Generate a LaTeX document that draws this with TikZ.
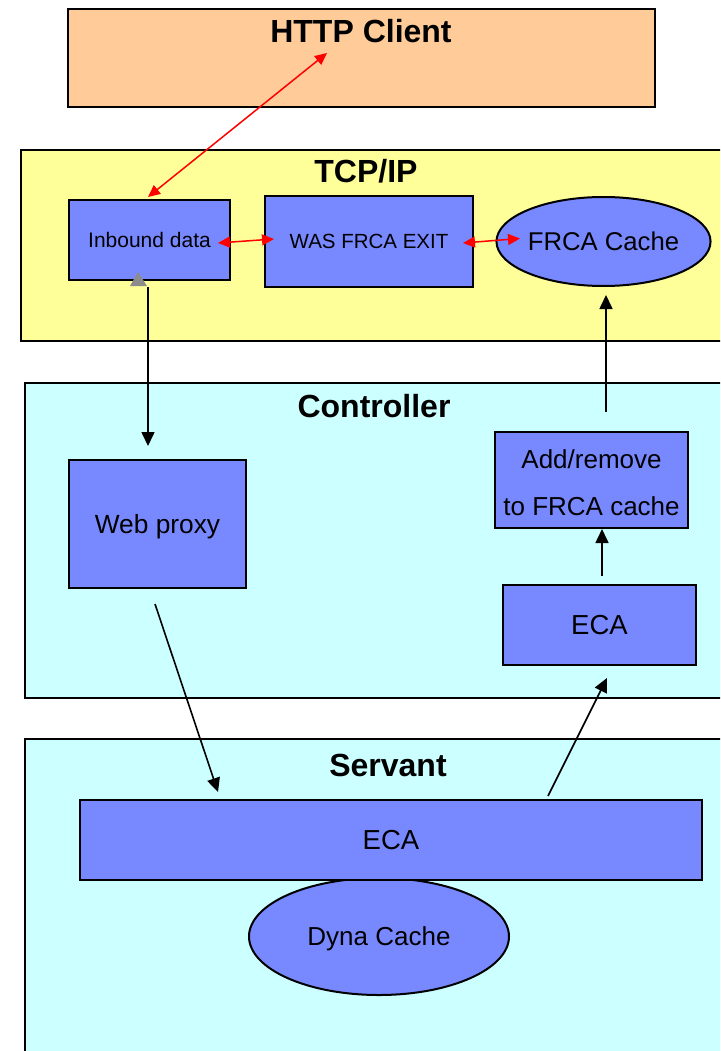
\documentclass[tikz,border=0pt]{standalone}
\usepackage{fontspec}
\setmainfont{Liberation Sans}
\usetikzlibrary{arrows.meta,shapes.geometric}
\definecolor{peach}{HTML}{FFCC99}
\definecolor{paleyellow}{HTML}{FFFF99}
\definecolor{palecyan}{HTML}{CCFFFF}
\definecolor{compblue}{HTML}{7889FF}
\definecolor{linkred}{HTML}{FF0000}
\begin{document}
\begin{tikzpicture}[x=1pt,y=-1pt,
  layer/.style={draw=black,line width=2pt,inner sep=0pt,anchor=north west},
  % text of size #1, centred on its capitals
  capc/.style={font=\fontsize{#1}{#1}\selectfont,text height={0.716*#1},text depth=0pt},
  comp/.style={draw=black,line width=2pt,fill=compblue,inner sep=0pt,align=center},
  blob/.style={draw=black,line width=2pt,fill=compblue,ellipse,inner sep=0pt},
  ttl/.style={capc=32,font=\bfseries\fontsize{32}{34}\selectfont,inner sep=0pt},
  redlink/.style={draw=linkred,line width=1.5pt,{Triangle[length=12pt,width=11pt]}-{Triangle[length=12pt,width=11pt]},color=linkred},
  flow/.style={draw=black,line width=1.6pt,-{Triangle[length=14pt,width=13pt]}}]
\useasboundingbox (0,0) rectangle (720,1051);
\clip (0,0) rectangle (720,1051);
\fill[white] (0,0) rectangle (720,1051);

% layers
\node[layer,fill=peach,minimum width=587pt,minimum height=98pt] (client) at (67,8) {};
\node[layer,fill=paleyellow,minimum width=720pt,minimum height=191pt] (tcpip) at (20,149) {};
\node[layer,fill=palecyan,minimum width=720pt,minimum height=315pt] (ctrl) at (24,382) {};
\node[layer,fill=palecyan,minimum width=720pt,minimum height=340pt] (servant) at (24,738) {};

% layer titles
\node[ttl] (clientT) at (361,31.5) {HTTP Client};
\node[ttl] (tcpipT) at (366,171.5) {TCP/IP};
\node[ttl] (ctrlT) at (374,406.5) {Controller};
\node[ttl] (servantT) at (388,765.5) {Servant};

% TCP/IP components
\node[comp,capc=21,minimum width=161pt,minimum height=80pt] (inb) at (149.5,240) {Inbound data};
\node[comp,capc=20.5,minimum width=208pt,minimum height=91pt] (exit) at (369,241.5) {WAS FRCA EXIT};
\node[blob,capc=25.7,minimum width=209pt,minimum height=89pt] (frca) at (603.5,241.5) {FRCA Cache};

% Controller components
\node[comp,capc=26.3,minimum width=177pt,minimum height=128pt] (proxy) at (157.5,524) {Web proxy};
\node[comp,minimum width=193pt,minimum height=96pt,font=\fontsize{26}{47}\selectfont] (addrm) at (591.5,480) {\rule{0pt}{25pt}Add/remove\\to FRCA cache};
\node[comp,capc=27.5,minimum width=193pt,minimum height=80pt] (ecaC) at (599.5,625) {ECA};

% Servant components
\node[blob,capc=26,minimum width=260pt,minimum height=117pt] (dyna) at (379,936.5) {Dyna Cache};
\node[comp,capc=27.5,minimum width=622pt,minimum height=80pt] (ecaS) at (391,840) {ECA};

% connector end points
\coordinate (inbTop) at (148,197);
\coordinate (clientIn) at (327,53);
\coordinate (inbR) at (218,243);
\coordinate (exitL) at (274,239);
\coordinate (exitR) at (463,243);
\coordinate (frcaL) at (520,238.5);
\coordinate (inbBot) at (148,287);
\coordinate (proxyTop) at (148,446);
\coordinate (proxyBot) at (155,604);
\coordinate (ecaSTop) at (218,792);
\coordinate (ecaSOut) at (548,796);
\coordinate (ecaCBot) at (607,678);
\coordinate (ecaCTop) at (602,576);
\coordinate (addrmBot) at (602,529);
\coordinate (addrmUp) at (606,412);
\coordinate (frcaBot) at (606,295);

% red links
\draw[redlink] (inbTop) -- (clientIn);
\draw[redlink] (inbR) -- (exitL);
\draw[redlink] (exitR) -- (frcaL);

% black flows
\draw[flow] (inbBot) -- (proxyTop);
\fill[gray!90] (138,272) -- (147,286) -- (130,286) -- cycle;
\draw[flow] (proxyBot) -- (ecaSTop);
\draw[flow] (ecaSOut) -- (ecaCBot);
\draw[flow] (ecaCTop) -- (addrmBot);
\draw[flow] (addrmUp) -- (frcaBot);
\end{tikzpicture}
\end{document}
